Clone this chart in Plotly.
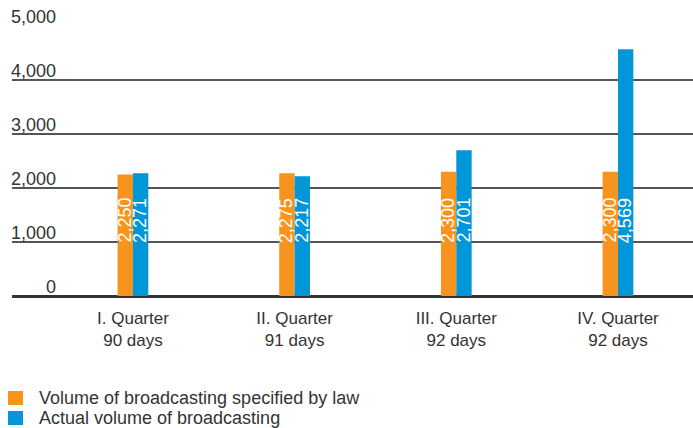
import plotly.graph_objects as go

# Broadcasting volume per quarter (hours)
quarters = ["I. Quarter", "II. Quarter", "III. Quarter", "IV. Quarter"]
days = ["90 days", "91 days", "92 days", "92 days"]
law_volume = [2250, 2275, 2300, 2300]
actual_volume = [2271, 2217, 2701, 4569]
y_ticks = [0, 1000, 2000, 3000, 4000, 5000]
series_names = ["Volume of broadcasting specified by law", "Actual volume of broadcasting"]

ORANGE = "#F7941E"
BLUE = "#0096D8"
TEXT = "#333333"
FONT = "Liberation Sans, Arial, sans-serif"

W, H = 693, 428
ML, MR, MT, MB = 12, 0, 26, 132
PW, PH = W - ML - MR, H - MT - MB


def px_x(px):
    return (px - ML) / PW


def px_y(py):
    return 1 - (py - MT) / PH


x_pos = list(range(len(quarters)))

fig = go.Figure()
fig.add_trace(go.Bar(x=x_pos, y=law_volume, name=series_names[0],
                     marker=dict(color=ORANGE, line=dict(width=0))))
fig.add_trace(go.Bar(x=x_pos, y=actual_volume, name=series_names[1],
                     marker=dict(color=BLUE, line=dict(width=0))))

annotations = []
shapes = []
# vertical value labels inside the bars, all at the same height
half = 0.048
for i in x_pos:
    for off, val in ((-half, law_volume[i]), (half, actual_volume[i])):
        annotations.append(dict(x=i + off, y=1400, xref="x", yref="y", text=f"{val:,}",
                                textangle=-90, showarrow=False,
                                font=dict(family=FONT, size=18, color="white")))

# y-axis labels sitting above their gridlines
for t in y_ticks:
    annotations.append(dict(x=px_x(58), y=t, xref="paper", yref="y", text=f"{t:,}",
                            xanchor="right", yanchor="bottom", showarrow=False, yshift=-3,
                            font=dict(family=FONT, size=18, color=TEXT)))

# legend below the chart: colour square + label per series
for k, (name, color) in enumerate(zip(series_names, [ORANGE, BLUE])):
    top = 391 + 20 * k
    shapes.append(dict(type="rect", xref="paper", yref="paper",
                       x0=px_x(8), x1=px_x(23), y0=px_y(top), y1=px_y(top + 14),
                       fillcolor=color, line=dict(width=0), layer="above"))
    annotations.append(dict(x=px_x(37), y=px_y(top + 7), xref="paper", yref="paper",
                            text=name, xanchor="left", yanchor="middle", showarrow=False,
                            font=dict(family=FONT, size=18, color=TEXT)))

fig.update_layout(
    width=W, height=H,
    margin=dict(l=ML, r=MR, t=MT, b=MB, autoexpand=False),
    paper_bgcolor="white", plot_bgcolor="white",
    barmode="group", bargap=0.81, bargroupgap=0,
    font=dict(family=FONT, size=17, color=TEXT),
    xaxis=dict(range=[-0.748, 3.464], tickvals=x_pos,
               ticktext=[f"{q}<br>{d}" for q, d in zip(quarters, days)],
               showgrid=False, zeroline=False, showline=False, ticks="",
               ticklabelstandoff=10,
               tickfont=dict(family=FONT, size=17, color=TEXT)),
    yaxis=dict(range=[0, 5000], tickvals=y_ticks, showticklabels=False,
               showgrid=True, gridcolor="#555555", gridwidth=1.5,
               zeroline=True, zerolinecolor="#333333", zerolinewidth=2.5, showline=False),
    showlegend=False,
    annotations=annotations,
    shapes=shapes,
)

fig.write_html("out.html")
